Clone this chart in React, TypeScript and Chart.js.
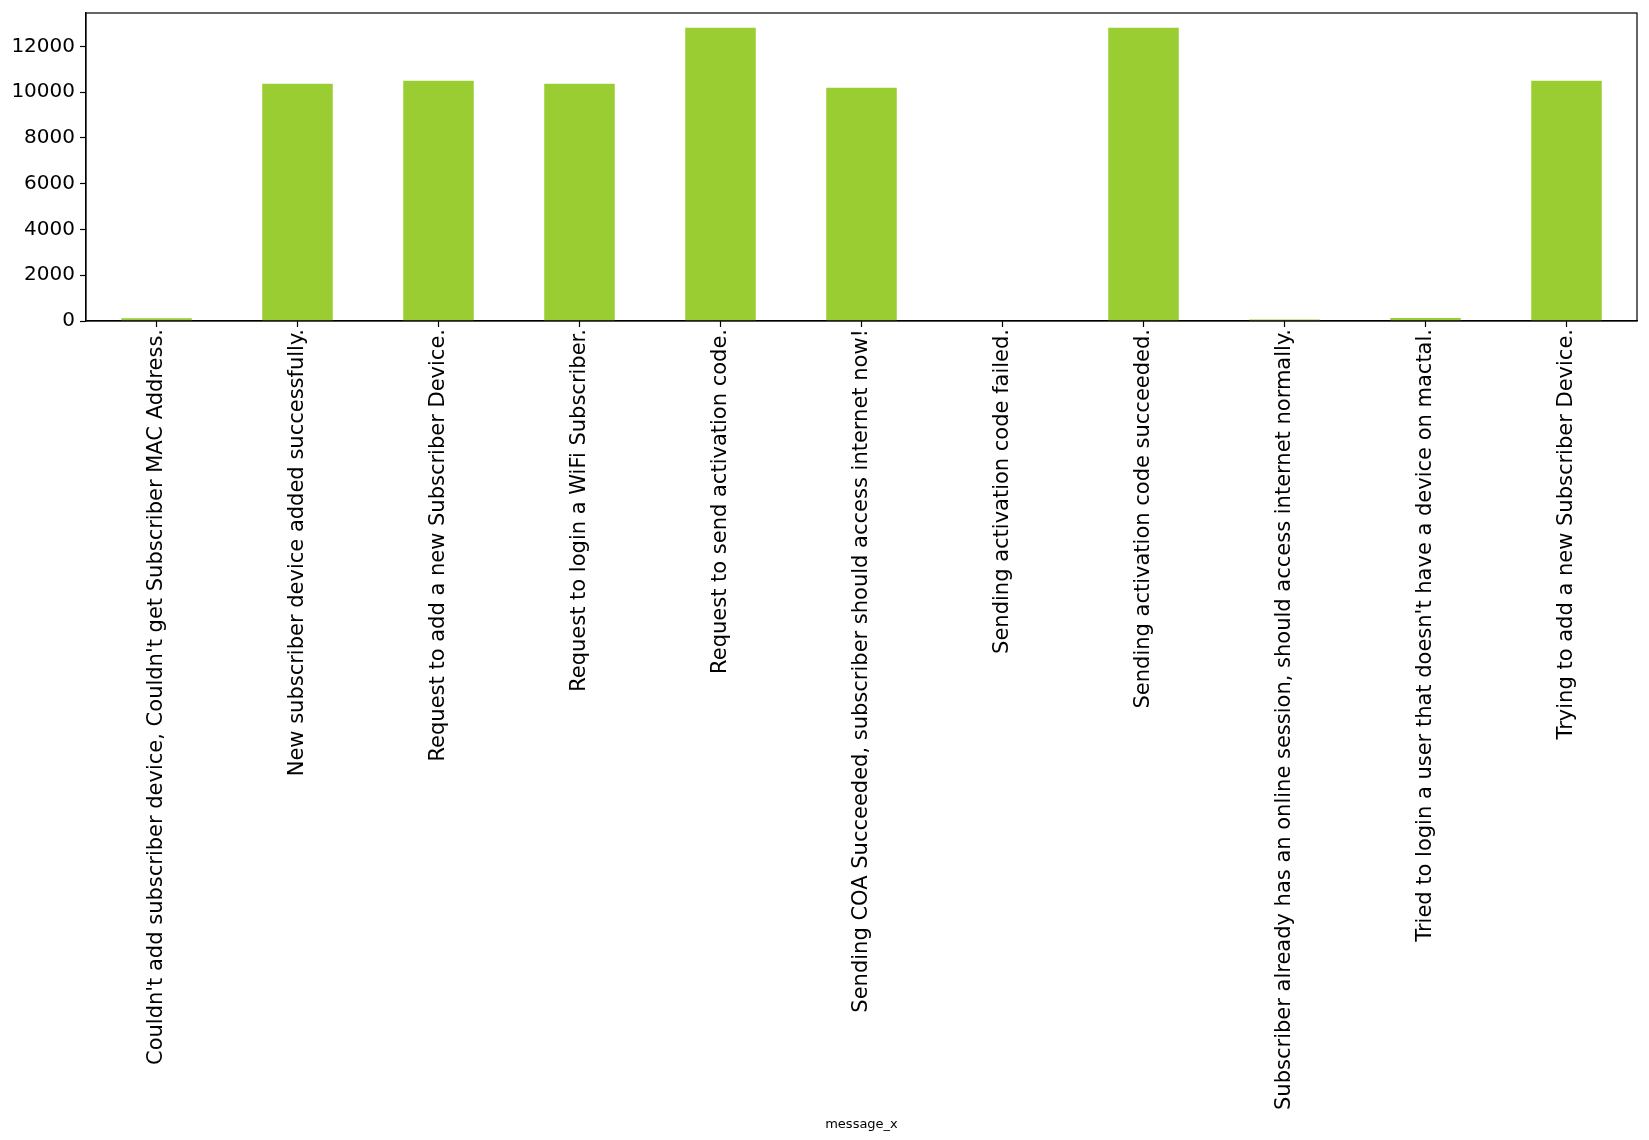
import React, { useEffect, useRef } from "react";
import { Chart, registerables } from "chart.js";

Chart.register(...registerables);

const categories: string[] = [
  "Couldn't add subscriber device, Couldn't get Subscriber MAC Address.",
  "New subscriber device added successfully.",
  "Request to add a new Subscriber Device.",
  "Request to login a WiFi Subscriber.",
  "Request to send activation code.",
  "Sending COA Succeeded, subscriber should access internet now!",
  "Sending activation code failed.",
  "Sending activation code succeeded.",
  "Subscriber already has an online session, should access internet normally.",
  "Tried to login a user that doesn't have a device on mactal.",
  "Trying to add a new Subscriber Device.",
];

const counts: number[] = [117, 10367, 10499, 10367, 12818, 10192, 0, 12818, 70, 130, 10499];

const yTicks: number[] = [0, 2000, 4000, 6000, 8000, 10000, 12000];

const xTitle = "message_x";

const W = 1649;
const H = 1140;
const PLOT_LEFT = 86;
const PLOT_TOP = 13;
const PLOT_RIGHT = 1637;
const PLOT_BOTTOM = 321;

const FONT = "'DejaVu Sans', sans-serif";

export default function App() {
  const ref = useRef<HTMLCanvasElement | null>(null);

  useEffect(() => {
    if (!ref.current) return;
    const frame = {
      id: "frame",
      afterDatasetsDraw(chart: any) {
        const { ctx, chartArea } = chart;
        ctx.save();
        ctx.strokeStyle = "#000";
        ctx.lineWidth = 1.2;
        ctx.strokeRect(chartArea.left, chartArea.top, chartArea.right - chartArea.left, chartArea.bottom - chartArea.top);
        ctx.restore();
      },
    };
    const chart = new Chart(ref.current, {
      type: "bar",
      data: {
        labels: categories,
        datasets: [
          {
            data: counts,
            backgroundColor: "#9acd32",
            borderWidth: 0,
            barPercentage: 0.5,
            categoryPercentage: 1,
          },
        ],
      },
      options: {
        animation: false,
        responsive: false,
        maintainAspectRatio: false,
        layout: { padding: { top: PLOT_TOP, right: W - PLOT_RIGHT, left: 0, bottom: 0 } },
        plugins: { legend: { display: false }, tooltip: { enabled: false } },
        scales: {
          x: {
            offset: true,
            grid: {
              offset: false,
              display: true,
              drawOnChartArea: false,
              drawTicks: true,
              tickLength: 6,
              tickWidth: 1.2,
              tickColor: "#000",
              color: "#000",
            },
            border: { display: true, color: "#000", width: 1.2 },
            ticks: {
              autoSkip: false,
              maxRotation: 90,
              minRotation: 90,
              padding: 2,
              color: "#000",
              font: { family: FONT, size: 21 },
            },
            title: {
              display: true,
              text: xTitle,
              color: "#000",
              font: { family: FONT, size: 13 },
              padding: { top: 0, bottom: 8 },
            },
            afterFit(scale: any) {
              scale.height = H - PLOT_BOTTOM;
              scale.paddingLeft = 0;
              scale.paddingRight = 0;
            },
          },
          y: {
            min: 0,
            max: 13460,
            afterBuildTicks(scale: any) {
              scale.ticks = yTicks.map((v) => ({ value: v }));
            },
            grid: {
              display: true,
              drawOnChartArea: false,
              drawTicks: true,
              tickLength: 6,
              tickWidth: 1.2,
              tickColor: "#000",
              color: "#000",
            },
            border: { display: true, color: "#000", width: 1.2 },
            ticks: {
              padding: 5,
              color: "#000",
              font: { family: FONT, size: 20 },
              callback: (v: any) => String(v),
            },
            afterFit(scale: any) {
              scale.width = PLOT_LEFT;
              scale.paddingTop = 0;
              scale.paddingBottom = 0;
            },
          },
        },
      },
      plugins: [frame],
    });
    return () => chart.destroy();
  }, []);

  return (
    <div style={{ position: "absolute", left: 0, top: 0, width: W, height: H, background: "#fff" }}>
      <canvas ref={ref} width={W} height={H} style={{ width: W, height: H, display: "block" }} />
    </div>
  );
}
